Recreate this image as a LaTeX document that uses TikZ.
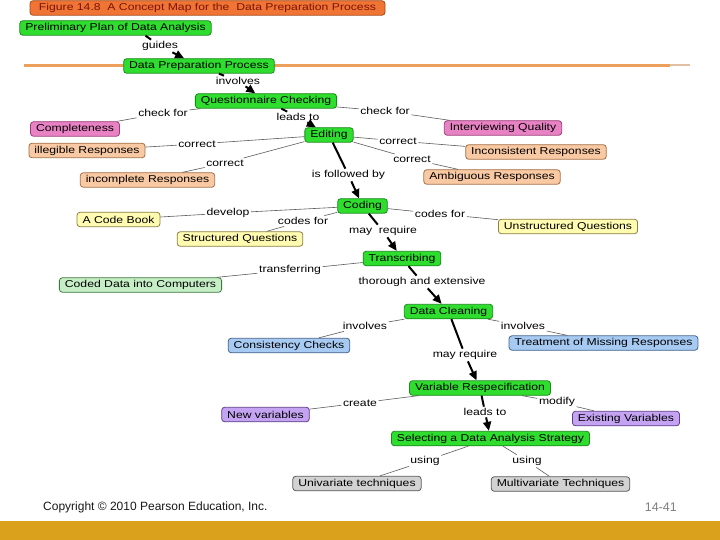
\documentclass[tikz,border=0pt]{standalone}
\usepackage{fontspec}
\setmainfont{Liberation Sans}
\newfontfamily\mapfont[FakeStretch=1.22]{Liberation Sans}
\usetikzlibrary{arrows.meta}
\definecolor{cgreen}{HTML}{2EDD2E}
\definecolor{cgreenD}{HTML}{1A8A1A}
\definecolor{cpink}{HTML}{E882C4}
\definecolor{cpinkD}{HTML}{9A3C78}
\definecolor{cpeach}{HTML}{F8C9A2}
\definecolor{cpeachD}{HTML}{A57048}
\definecolor{cyellow}{HTML}{FFFBB0}
\definecolor{cyellowD}{HTML}{8C8044}
\definecolor{cltgreen}{HTML}{C6EEC6}
\definecolor{cltgreenD}{HTML}{3E7A3E}
\definecolor{cblue}{HTML}{A6CAF2}
\definecolor{cblueD}{HTML}{46648C}
\definecolor{cpurple}{HTML}{C4A4F2}
\definecolor{cpurpleD}{HTML}{5E4088}
\definecolor{cgray}{HTML}{D2D2D2}
\definecolor{cgrayD}{HTML}{5A5A5A}
\definecolor{ctitle}{HTML}{F07434}
\definecolor{ctitleD}{HTML}{A84818}
\definecolor{ctitleT}{HTML}{7A1408}
\definecolor{orangeline}{HTML}{EDA05C}
\definecolor{linegray}{HTML}{5C5C5C}
\definecolor{goldbar}{HTML}{DAA21C}
\tikzset{
  mapfnt/.style={font=\mapfont\fontsize{10}{12}\selectfont},
  box/.style={draw, rounded corners=3pt, line width=0.8pt, inner xsep=5.5pt, inner ysep=0pt, minimum height=14.5pt, mapfnt, text=black},
  gbox/.style={box, fill=cgreen, draw=cgreenD},
  pbox/.style={box, fill=cpink, draw=cpinkD},
  obox/.style={box, fill=cpeach, draw=cpeachD},
  ybox/.style={box, fill=cyellow, draw=cyellowD},
  lgbox/.style={box, fill=cltgreen, draw=cltgreenD},
  bbox/.style={box, fill=cblue, draw=cblueD},
  vbox/.style={box, fill=cpurple, draw=cpurpleD},
  kbox/.style={box, fill=cgray, draw=cgrayD},
  lbl/.style={inner sep=1.5pt, mapfnt, text=black},
  thinline/.style={draw=linegray, line width=0.6pt},
  heavy/.style={draw=black, line width=2pt},
  heavyarrow/.style={heavy, -{Triangle[length=9pt,width=8pt]}},
}
\begin{document}
\begin{tikzpicture}[x=1pt,y=-1pt]
\useasboundingbox (0,0) rectangle (720,540);
\fill[white] (0,0) rectangle (720,540);
% orange rule
\draw[orangeline, line width=3pt] (24,65.5) -- (670,65.5);
\draw[orangeline!70!gray!60, line width=2pt] (670,65.5) -- (690,65.5);
% bottom bar
\fill[goldbar] (0,521) rectangle (720,540);
% title
\node[box, fill=ctitle, draw=ctitleD, text=ctitleT, minimum width=355pt] (title) at (207.5,8) {Figure 14.8\ \ A Concept Map for the\ \ Data Preparation Process};
% concept nodes
\node[gbox] (prelim) at (115.5,28) {Preliminary Plan of Data Analysis};
\node[gbox] (dpp) at (199,66) {Data Preparation Process};
\node[gbox] (qc) at (266,101) {Questionnaire Checking};
\node[pbox] (comp) at (75,129) {Completeness};
\node[pbox] (iq) at (503,128) {Interviewing Quality};
\node[gbox] (edit) at (329,135) {Editing};
\node[obox] (illeg) at (87,150.5) {illegible Responses};
\node[obox] (incomp) at (147.5,180) {incomplete Responses};
\node[obox] (incons) at (536,152) {Inconsistent Responses};
\node[obox] (ambig) at (492,177) {Ambiguous Responses};
\node[gbox] (coding) at (362.5,206) {Coding};
\node[ybox] (codebook) at (118.5,219.5) {A Code Book};
\node[ybox] (structq) at (240,239) {Structured Questions};
\node[ybox] (unstr) at (568,226.5) {Unstructured Questions};
\node[gbox] (transc) at (402,258.5) {Transcribing};
\node[lgbox] (coded) at (140.5,285) {Coded Data into Computers};
\node[gbox] (clean) at (448.5,311.5) {Data Cleaning};
\node[bbox] (consist) at (289,345.5) {Consistency Checks};
\node[bbox] (treat) at (603.5,343) {Treatment of Missing Responses};
\node[gbox] (varres) at (480,388) {Variable Respecification};
\node[vbox] (newvar) at (265.5,414.5) {New variables};
\node[vbox] (exist) at (626,418.5) {Existing Variables};
\node[gbox] (select) at (490.5,438.5) {Selecting a Data Analysis Strategy};
\node[kbox] (univ) at (357,483.5) {Univariate techniques};
\node[kbox] (multi) at (560.5,484) {Multivariate Techniques};
% labels
\node[lbl] (Lguides) at (160,46) {guides};
\node[lbl] (Linv1) at (238,81) {involves};
\node[lbl] (Lcheck1) at (163,113) {check for};
\node[lbl] (Lcheck2) at (385,111) {check for};
\node[lbl] (Llead1) at (298,117) {leads to};
\node[lbl] (Lcor1) at (197,144) {correct};
\node[lbl] (Lcor2) at (225,163) {correct};
\node[lbl] (Lcor3) at (398,141) {correct};
\node[lbl] (Lcor4) at (412,159) {correct};
\node[lbl] (Lfollow) at (348.5,175) {is followed by};
\node[lbl] (Ldevelop) at (228,213) {develop};
\node[lbl] (Lcodes1) at (303,221) {codes for};
\node[lbl] (Lcodes2) at (440,214) {codes for};
\node[lbl] (Lmay1) at (383,231) {may\ \ require};
\node[lbl] (Ltransf) at (290,270) {transferring};
\node[lbl] (Lthor) at (422,282) {thorough and extensive};
\node[lbl] (Linv2) at (365,326) {involves};
\node[lbl] (Linv3) at (523,326) {involves};
\node[lbl] (Lmay2) at (465,355) {may require};
\node[lbl] (Lcreate) at (360,403) {create};
\node[lbl] (Lmodify) at (557,402) {modify};
\node[lbl] (Llead2) at (485,412) {leads to};
\node[lbl] (Lusing1) at (425,461) {using};
\node[lbl] (Lusing2) at (527,461) {using};
% heavy connectors
\draw[heavy] ([xshift=30pt]prelim.south) -- (Lguides);
\draw[heavyarrow] (Lguides) -- (dpp);
\draw[heavy] (dpp) -- (Linv1);
\draw[heavyarrow] (Linv1) -- (qc);
\draw[heavy] (qc) -- (Llead1);
\draw[heavyarrow] (Llead1) -- (edit);
\draw[heavy] (edit) -- (Lfollow);
\draw[heavyarrow] (Lfollow) -- (coding);
\draw[heavy] (coding) -- (Lmay1);
\draw[heavyarrow] (Lmay1) -- (transc);
\draw[heavy] (transc) -- (Lthor);
\draw[heavyarrow] (Lthor) -- (clean);
\draw[heavy] (clean) -- (Lmay2);
\draw[heavyarrow] (Lmay2) -- (varres);
\draw[heavy] (varres) -- (Llead2);
\draw[heavyarrow] (Llead2) -- (select);
% thin connectors
\draw[thinline] (qc) -- (Lcheck1) -- (comp);
\draw[thinline] (qc) -- (Lcheck2) -- (iq);
\draw[thinline] (edit) -- (Lcor1) -- (illeg);
\draw[thinline] (edit) -- (Lcor2) -- (incomp);
\draw[thinline] (edit) -- (Lcor3) -- (incons);
\draw[thinline] (edit) -- (Lcor4) -- (ambig);
\draw[thinline] (coding) -- (Ldevelop) -- (codebook);
\draw[thinline] (coding) -- (Lcodes1) -- (structq);
\draw[thinline] (coding) -- (Lcodes2) -- (unstr);
\draw[thinline] (transc) -- (Ltransf) -- (coded);
\draw[thinline] (clean) -- (Linv2) -- (consist);
\draw[thinline] (clean) -- (Linv3) -- (treat);
\draw[thinline] (varres) -- (Lcreate) -- (newvar);
\draw[thinline] (varres) -- (Lmodify) -- (exist);
\draw[thinline] (select) -- (Lusing1) -- (univ);
\draw[thinline] (select) -- (Lusing2) -- (multi);
% footer
\node[anchor=west, inner sep=0pt, font=\fontsize{12}{14}\selectfont, text=black!90] (copy) at (43,507.5) {Copyright \textcopyright{} 2010 Pearson Education, Inc.};
\node[anchor=east, inner sep=0pt, font=\fontsize{12.5}{14}\selectfont, text=black!50] (pageno) at (677,507) {14-41};
\end{tikzpicture}
\end{document}
